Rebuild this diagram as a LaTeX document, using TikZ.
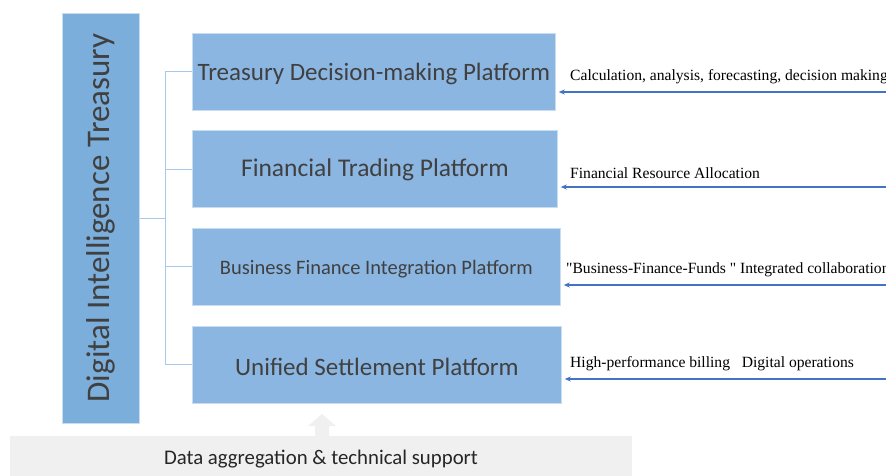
\documentclass[tikz,border=0pt]{standalone}
\usepackage{fontspec}
\setmainfont{Liberation Serif}
\newfontfamily\boxfont{Carlito}
\usetikzlibrary{arrows.meta}
\definecolor{mainblue}{HTML}{7BAEDB}
\definecolor{platblue}{HTML}{8BB6E1}
\definecolor{edgeblue}{HTML}{C9DDF1}
\definecolor{treeblue}{HTML}{A9C9EA}
\definecolor{arrblue}{HTML}{4472C4}
\definecolor{txtgray}{HTML}{404040}
\definecolor{bargray}{HTML}{F0F0F0}
\begin{document}
\begin{tikzpicture}[x=1pt,y=-1pt,
  platbox/.style={draw=edgeblue,line width=0.8pt,fill=platblue,minimum height=77pt,anchor=north west,inner sep=0pt,text=txtgray,font=\boxfont},
  treeline/.style={draw=treeblue,line width=1pt},
  inarrow/.style={draw=arrblue,line width=1.6pt,-{Stealth[length=6pt,width=5pt]},shorten >=3pt},
  lbl/.style={anchor=south west,inner sep=0pt,font=\fontsize{15.6}{18}\selectfont,text=black}]
\useasboundingbox[fill=white] (0,0) rectangle (886,475);
% main box
\node[draw=edgeblue,line width=0.8pt,fill=mainblue,minimum width=77pt,minimum height=410pt,anchor=north west,inner sep=0pt] (main) at (62,13) {};
\node[rotate=90,text=txtgray,font=\boxfont\fontsize{33}{36}\selectfont] (maintxt) at (101,218) {Digital Intelligence Treasury};
% platforms
\node[platbox,minimum width=363pt] (p1) at (192,33) {};
\node[text=txtgray,font=\boxfont\fontsize{25}{28}\selectfont] (t1) at ([yshift=-2pt]p1.center) {Treasury Decision-making Platform};
\node[platbox,minimum width=365pt] (p2) at (192,130) {};
\node[text=txtgray,font=\boxfont\fontsize{25.5}{28}\selectfont] (t2) at ([yshift=-1pt]p2.center) {Financial Trading Platform};
\node[platbox,minimum width=368pt] (p3) at (192,228) {};
\node[text=txtgray,font=\boxfont\fontsize{20.5}{24}\selectfont] (t3) at ([yshift=-2pt]p3.center) {Business Finance Integration Platform};
\node[platbox,minimum width=369pt] (p4) at (192,326) {};
\node[text=txtgray,font=\boxfont\fontsize{25}{28}\selectfont] (t4) at ([yshift=-2pt]p4.center) {Unified Settlement Platform};
% tree
\coordinate (jn) at (165,218);
\draw[treeline] (main.east |- jn) -- (jn);
\draw[treeline] (165,71) -- (165,364);
\draw[treeline] (165,71) -- (p1.west |- 0,71);
\draw[treeline] (165,169) -- (p2.west |- 0,169);
\draw[treeline] (165,266) -- (p3.west |- 0,266);
\draw[treeline] (165,364) -- (p4.west |- 0,364);
% incoming arrows
\coordinate (r1) at (890,92);
\coordinate (r2) at (890,187);
\coordinate (r3) at (890,285);
\coordinate (r4) at (890,379);
\draw[inarrow] (r1) -- (p1.east |- r1);
\draw[inarrow] (r2) -- (p2.east |- r2);
\draw[inarrow] (r3) -- (p3.east |- r3);
\draw[inarrow] (r4) -- (p4.east |- r4);
\node[lbl] (l1) at (570,84) {Calculation, analysis, forecasting, decision making};
\node[lbl] (l2) at (570,179) {Financial Resource Allocation};
\node[lbl] (l3) at (566,277) {\textquotedbl Business-Finance-Funds \textquotedbl\ Integrated collaboration};
\node[lbl] (l4) at (570,371) {High-performance billing\ \ \ Digital operations};
% bottom bar
\node[fill=bargray,minimum width=622pt,minimum height=40pt,anchor=north west,inner sep=0pt] (bar) at (10,436) {};
\node[text=black!85,font=\boxfont\fontsize{20.8}{24}\selectfont] (bartxt) at (321,459) {Data aggregation \& technical support};
\fill[bargray] (315,436) -- (315,426) -- (308,426) -- (322,414) -- (336,426) -- (329,426) -- (329,436) -- cycle;
\end{tikzpicture}
\end{document}
